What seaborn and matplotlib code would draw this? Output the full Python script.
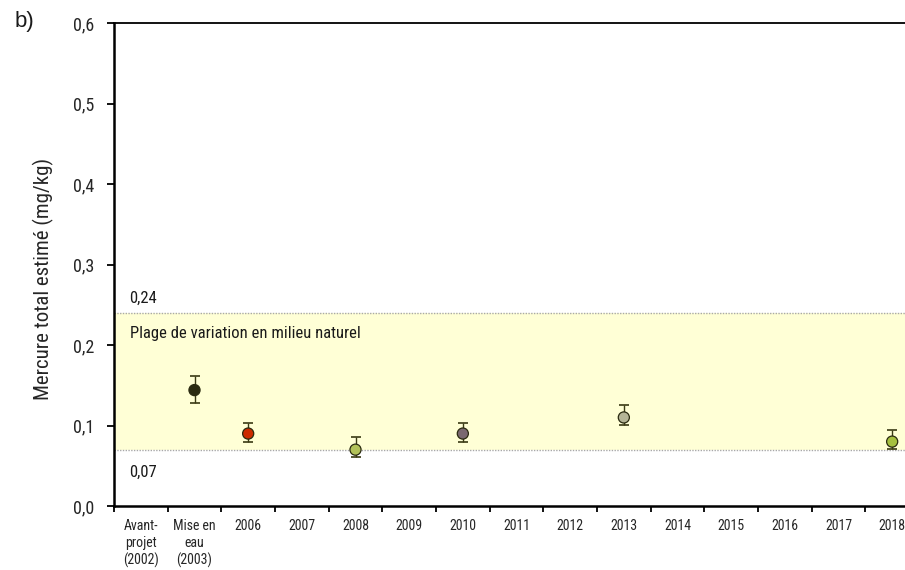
import numpy as np
import pandas as pd
import matplotlib
matplotlib.use("Agg")
import matplotlib.pyplot as plt
import seaborn as sns
from matplotlib.ticker import FixedLocator, FuncFormatter

categories = ["Avant-\nprojet\n(2002)", "Mise en\neau\n(2003)", "2006", "2007", "2008",
              "2009", "2010", "2011", "2012", "2013", "2014", "2015", "2016", "2017", "2018"]
sampled = ["Mise en\neau\n(2003)", "2006", "2008", "2010", "2013", "2018"]
mercury = [0.144, 0.090, 0.070, 0.090, 0.110, 0.080]
err_low = [0.128, 0.0795, 0.0605, 0.0795, 0.101, 0.071]
err_high = [0.162, 0.1035, 0.086, 0.1035, 0.126, 0.095]
point_colors = ["#2a2a10", "#cc2a00", "#b2c25a", "#7a6870", "#b4b496", "#a6c040"]
band_low, band_high = 0.07, 0.24
y_ticks = [0.0, 0.1, 0.2, 0.3, 0.4, 0.5, 0.6]

sns.set_theme(style="white")
plt.rcParams["font.family"] = ["Roboto Condensed", "Liberation Sans", "DejaVu Sans"]
plt.rcParams["text.color"] = "#1a1a1a"

df = pd.DataFrame({
    "cat": sampled,
    "pos": [categories.index(c) for c in sampled],
    "hg": mercury,
    "lo": err_low,
    "hi": err_high,
})

fig = plt.figure(figsize=(9.05, 5.70), dpi=100)
ax = fig.add_axes([114 / 905, 64 / 570, 805 / 905, 483 / 570])

# natural range band
ax.axhspan(band_low, band_high, facecolor="#ffffd6", edgecolor="none", zorder=0)
for yv in (band_low, band_high):
    ax.axhline(yv, color="#a8a8a8", lw=1.0, ls=(0, (1, 1)), zorder=1)
ax.text(-0.21, 0.2584, "0,24", fontsize=12, va="center", ha="left")
ax.text(-0.21, 0.042, "0,07", fontsize=12, va="center", ha="left")
ax.text(-0.21, 0.2137, "Plage de variation en milieu naturel", fontsize=12, va="center", ha="left")

# error bars
ax.errorbar(df["pos"], df["hg"], yerr=[df["hg"] - df["lo"], df["hi"] - df["hg"]],
            fmt="none", ecolor="#3a3a14", elinewidth=1.0, capsize=3.4, capthick=1.2, zorder=3)

sns.scatterplot(data=df, x="pos", y="hg", hue="cat", palette=point_colors, s=64,
                edgecolor="#2a2a10", linewidth=0.9, legend=False, zorder=4, ax=ax)

ax.set_xlim(-0.5, len(categories) - 0.5)
ax.set_ylim(0, 0.6)
ax.xaxis.set_major_locator(FixedLocator(np.arange(len(categories))))
ax.set_xticklabels(categories, fontsize=10, linespacing=1.24)
ax.xaxis.set_minor_locator(FixedLocator(np.arange(len(categories) + 1) - 0.5))
ax.tick_params(axis="x", which="major", length=0, pad=9.5)
ax.tick_params(axis="x", which="minor", length=4, width=1.3, direction="out", color="black", bottom=True)
ax.set_yticks(y_ticks)
ax.yaxis.set_major_formatter(FuncFormatter(lambda v, p: f"{v:.1f}".replace(".", ",")))
ax.tick_params(axis="y", length=5, width=1.3, direction="out", color="black", left=True,
               labelsize=13, pad=9)
ax.set_xlabel("")
ax.set_ylabel("Mercure total estimé (mg/kg)", fontsize=15)
ax.yaxis.set_label_coords((54 - 114) / 805, (506 - 279) / 483)

for side in ("left", "bottom", "top", "right"):
    ax.spines[side].set_visible(True)
    ax.spines[side].set_color("black")
    ax.spines[side].set_linewidth(1.8)
ax.spines["top"].set_linewidth(1.3)

fig.text(15 / 905, 1 - 21 / 570, "b)", fontsize=16, va="center", ha="left",
         family=["Liberation Sans", "DejaVu Sans"])

fig.savefig("out.png", dpi=100)
